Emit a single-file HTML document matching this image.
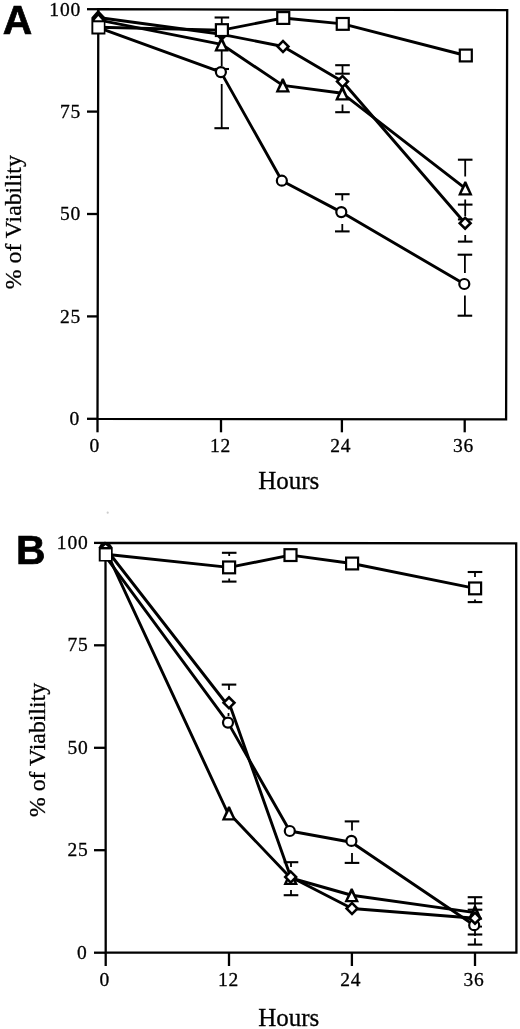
<!DOCTYPE html>
<html><head><meta charset="utf-8"><style>
html,body{margin:0;padding:0;background:#fff;width:520px;height:1029px;overflow:hidden}
svg{display:block;will-change:transform}
.s{stroke:#000;stroke-width:0.3px}
</style></head><body>
<svg width="520" height="1029" viewBox="0 0 520 1029">
<polygon points="98.3,9.2 507.2,10.2 506.1,419.4 97.5,418.8" fill="none" stroke="#000" stroke-width="2.3" stroke-linejoin="miter"/>
<line x1="87.0" y1="9.2" x2="98.3" y2="9.2" stroke="#000" stroke-width="2.3" stroke-linecap="butt"/>
<text class="s" x="81.0" y="15.5" font-family="Liberation Serif" font-size="19.5" font-weight="normal" text-anchor="end" letter-spacing="0.8">100</text>
<line x1="87.0" y1="111.6" x2="98.1" y2="111.6" stroke="#000" stroke-width="2.3" stroke-linecap="butt"/>
<text class="s" x="81.0" y="117.9" font-family="Liberation Serif" font-size="19.5" font-weight="normal" text-anchor="end" letter-spacing="0.8">75</text>
<line x1="87.0" y1="214.0" x2="97.9" y2="214.0" stroke="#000" stroke-width="2.3" stroke-linecap="butt"/>
<text class="s" x="81.0" y="220.3" font-family="Liberation Serif" font-size="19.5" font-weight="normal" text-anchor="end" letter-spacing="0.8">50</text>
<line x1="87.0" y1="316.4" x2="97.7" y2="316.4" stroke="#000" stroke-width="2.3" stroke-linecap="butt"/>
<text class="s" x="81.0" y="322.7" font-family="Liberation Serif" font-size="19.5" font-weight="normal" text-anchor="end" letter-spacing="0.8">25</text>
<line x1="87.0" y1="418.8" x2="97.5" y2="418.8" stroke="#000" stroke-width="2.3" stroke-linecap="butt"/>
<text class="s" x="80.0" y="425.1" font-family="Liberation Serif" font-size="19.5" font-weight="normal" text-anchor="end" letter-spacing="0.8">0</text>
<line x1="97.5" y1="418.8" x2="97.5" y2="432.3" stroke="#000" stroke-width="2.3" stroke-linecap="butt"/>
<text class="s" x="94.8" y="452.3" font-family="Liberation Serif" font-size="19.5" font-weight="normal" text-anchor="middle" letter-spacing="0.8">0</text>
<line x1="221.0" y1="418.98" x2="221.0" y2="432.3" stroke="#000" stroke-width="2.3" stroke-linecap="butt"/>
<text class="s" x="220.5" y="452.3" font-family="Liberation Serif" font-size="19.5" font-weight="normal" text-anchor="middle" letter-spacing="0.8">12</text>
<line x1="341.9" y1="419.16" x2="341.9" y2="432.3" stroke="#000" stroke-width="2.3" stroke-linecap="butt"/>
<text class="s" x="340.8" y="452.3" font-family="Liberation Serif" font-size="19.5" font-weight="normal" text-anchor="middle" letter-spacing="0.8">24</text>
<line x1="464.7" y1="419.34" x2="464.7" y2="432.3" stroke="#000" stroke-width="2.3" stroke-linecap="butt"/>
<text class="s" x="463.5" y="452.3" font-family="Liberation Serif" font-size="19.5" font-weight="normal" text-anchor="middle" letter-spacing="0.8">36</text>
<text class="s" x="258.2" y="488.8" font-family="Liberation Serif" font-size="25" font-weight="normal" text-anchor="start" >Hours</text>
<text class="s" x="0" y="0" font-family="Liberation Serif" font-size="24" transform="translate(20.6,289.2) rotate(-90) scale(0.99,1)">% of Viability</text>
<text x="2.8" y="33.9" font-family="Liberation Sans" font-size="40.8" font-weight="bold" text-anchor="start" stroke="#000" stroke-width="0.7">A</text>
<polyline points="98.4,27.3 221.9,30.1 283.25,18.0 342.75,23.9 465.8,55.5" fill="none" stroke="#000" stroke-width="2.9" stroke-linejoin="round"/>
<polyline points="98.2,17.5 221.7,34.3 283.0,46.5 342.5,81.5 465.1,223.2" fill="none" stroke="#000" stroke-width="2.9" stroke-linejoin="round"/>
<polyline points="98.0,19.8 221.5,44.3 282.8,85.4 342.3,93.3 465.3,188.3" fill="none" stroke="#000" stroke-width="2.9" stroke-linejoin="round"/>
<polyline points="98.4,27.7 220.9,72.1 281.85,180.7 341.3,212.1 464.3,284.0" fill="none" stroke="#000" stroke-width="2.9" stroke-linejoin="round"/>
<line x1="221.75" y1="17.5" x2="221.75" y2="24" stroke="#000" stroke-width="1.8" stroke-linecap="butt"/>
<line x1="214.6" y1="17.5" x2="229.2" y2="17.5" stroke="#000" stroke-width="2.1" stroke-linecap="butt"/>
<line x1="221.7" y1="50" x2="221.7" y2="66" stroke="#000" stroke-width="1.8" stroke-linecap="butt"/>
<line x1="221.7" y1="84" x2="221.7" y2="128.2" stroke="#000" stroke-width="1.8" stroke-linecap="butt"/>
<line x1="214.4" y1="128.2" x2="229.0" y2="128.2" stroke="#000" stroke-width="2.1" stroke-linecap="butt"/>
<line x1="214.4" y1="69.0" x2="229.0" y2="69.0" stroke="#000" stroke-width="2.1" stroke-linecap="butt"/>
<line x1="342.5" y1="65.2" x2="342.5" y2="74" stroke="#000" stroke-width="1.8" stroke-linecap="butt"/>
<line x1="335.2" y1="65.2" x2="349.8" y2="65.2" stroke="#000" stroke-width="2.1" stroke-linecap="butt"/>
<line x1="335.2" y1="73.7" x2="349.8" y2="73.7" stroke="#000" stroke-width="2.1" stroke-linecap="butt"/>
<line x1="342.5" y1="104.5" x2="342.5" y2="112.2" stroke="#000" stroke-width="1.8" stroke-linecap="butt"/>
<line x1="335.2" y1="112.2" x2="349.8" y2="112.2" stroke="#000" stroke-width="2.1" stroke-linecap="butt"/>
<line x1="342.3" y1="194.2" x2="342.3" y2="200.5" stroke="#000" stroke-width="1.8" stroke-linecap="butt"/>
<line x1="335.0" y1="194.2" x2="349.6" y2="194.2" stroke="#000" stroke-width="2.1" stroke-linecap="butt"/>
<line x1="342.3" y1="224" x2="342.3" y2="231.4" stroke="#000" stroke-width="1.8" stroke-linecap="butt"/>
<line x1="335.0" y1="231.4" x2="349.6" y2="231.4" stroke="#000" stroke-width="2.1" stroke-linecap="butt"/>
<line x1="465.2" y1="159.7" x2="465.2" y2="176.5" stroke="#000" stroke-width="1.8" stroke-linecap="butt"/>
<line x1="457.9" y1="159.7" x2="472.5" y2="159.7" stroke="#000" stroke-width="2.1" stroke-linecap="butt"/>
<line x1="465.2" y1="199.5" x2="465.2" y2="216" stroke="#000" stroke-width="1.8" stroke-linecap="butt"/>
<line x1="457.9" y1="204.6" x2="472.5" y2="204.6" stroke="#000" stroke-width="2.1" stroke-linecap="butt"/>
<line x1="457.9" y1="219.4" x2="472.5" y2="219.4" stroke="#000" stroke-width="2.1" stroke-linecap="butt"/>
<line x1="465.2" y1="235" x2="465.2" y2="241.6" stroke="#000" stroke-width="1.8" stroke-linecap="butt"/>
<line x1="457.9" y1="241.6" x2="472.5" y2="241.6" stroke="#000" stroke-width="2.1" stroke-linecap="butt"/>
<line x1="464.9" y1="254.7" x2="464.9" y2="273" stroke="#000" stroke-width="1.8" stroke-linecap="butt"/>
<line x1="457.6" y1="254.7" x2="472.2" y2="254.7" stroke="#000" stroke-width="2.1" stroke-linecap="butt"/>
<line x1="464.9" y1="295.5" x2="464.9" y2="315.7" stroke="#000" stroke-width="1.8" stroke-linecap="butt"/>
<line x1="457.6" y1="315.7" x2="472.2" y2="315.7" stroke="#000" stroke-width="2.1" stroke-linecap="butt"/>
<polygon points="221.7,27.3 228.7,34.3 221.7,41.3 214.7,34.3" fill="#000"/>
<polygon points="220.5,37.5 222.5,37.5 228.8,51.4 214.2,51.4" fill="#000"/>
<polygon points="221.50,42.12 217.89,49.15 225.11,49.15" fill="#fff"/>
<polygon points="281.8,78.6 283.8,78.6 290.1,92.5 275.5,92.5" fill="#000"/>
<polygon points="282.80,83.22 279.19,90.25 286.41,90.25" fill="#fff"/>
<polygon points="341.3,86.5 343.3,86.5 349.6,100.4 335.0,100.4" fill="#000"/>
<polygon points="342.30,91.12 338.69,98.15 345.91,98.15" fill="#fff"/>
<polygon points="464.3,181.5 466.3,181.5 472.6,195.4 458.0,195.4" fill="#000"/>
<polygon points="465.30,186.12 461.69,193.15 468.91,193.15" fill="#fff"/>
<circle cx="220.9" cy="72.1" r="5.0" fill="#fff" stroke="#000" stroke-width="2.2"/>
<circle cx="281.85" cy="180.7" r="5.0" fill="#fff" stroke="#000" stroke-width="2.2"/>
<circle cx="341.3" cy="212.1" r="5.0" fill="#fff" stroke="#000" stroke-width="2.2"/>
<circle cx="464.3" cy="284.0" r="5.0" fill="#fff" stroke="#000" stroke-width="2.2"/>
<polygon points="283.0,39.25 290.25,46.5 283.0,53.75 275.75,46.5" fill="#000"/>
<polygon points="283.0,42.86 286.64,46.5 283.0,50.14 279.36,46.5" fill="#fff"/>
<polygon points="342.5,74.25 349.75,81.5 342.5,88.75 335.25,81.5" fill="#000"/>
<polygon points="342.5,77.86 346.14,81.5 342.5,85.14 338.86,81.5" fill="#fff"/>
<polygon points="465.1,215.95 472.35,223.2 465.1,230.45 457.85,223.2" fill="#000"/>
<polygon points="465.1,219.56 468.74,223.2 465.1,226.84 461.46,223.2" fill="#fff"/>
<rect x="214.8" y="23.1" width="14.2" height="14.0" fill="#000"/>
<rect x="217.0" y="25.3" width="9.8" height="9.6" fill="#fff"/>
<rect x="276.15" y="11.0" width="14.2" height="14.0" fill="#000"/>
<rect x="278.35" y="13.2" width="9.8" height="9.6" fill="#fff"/>
<rect x="335.65" y="16.9" width="14.2" height="14.0" fill="#000"/>
<rect x="337.85" y="19.1" width="9.8" height="9.6" fill="#fff"/>
<rect x="458.7" y="48.5" width="14.2" height="14.0" fill="#000"/>
<rect x="460.9" y="50.7" width="9.8" height="9.6" fill="#fff"/>
<polygon points="97.1,9 99.2,9 99.2,11 105.4,17.6 105.4,34.4 91.4,34.4 91.4,17.4 97.1,11" fill="#000"/>
<polygon points="94.6,20.2 98.3,15.9 102.1,20.2" fill="#fff"/>
<rect x="93.3" y="22.3" width="10.5" height="10.2" fill="#fff"/>
<polygon points="105.5,542.8 516.2,543.4 516.4,952.6 105.7,952.7" fill="none" stroke="#000" stroke-width="2.3" stroke-linejoin="miter"/>
<line x1="94.0" y1="542.9" x2="105.6" y2="542.9" stroke="#000" stroke-width="2.3" stroke-linecap="butt"/>
<text class="s" x="88.5" y="548.9" font-family="Liberation Serif" font-size="19.5" font-weight="normal" text-anchor="end" letter-spacing="0.8">100</text>
<line x1="94.0" y1="645.3" x2="105.6" y2="645.3" stroke="#000" stroke-width="2.3" stroke-linecap="butt"/>
<text class="s" x="88.5" y="651.3" font-family="Liberation Serif" font-size="19.5" font-weight="normal" text-anchor="end" letter-spacing="0.8">75</text>
<line x1="94.0" y1="747.8" x2="105.6" y2="747.8" stroke="#000" stroke-width="2.3" stroke-linecap="butt"/>
<text class="s" x="88.5" y="753.8" font-family="Liberation Serif" font-size="19.5" font-weight="normal" text-anchor="end" letter-spacing="0.8">50</text>
<line x1="94.0" y1="850.2" x2="105.6" y2="850.2" stroke="#000" stroke-width="2.3" stroke-linecap="butt"/>
<text class="s" x="88.5" y="856.2" font-family="Liberation Serif" font-size="19.5" font-weight="normal" text-anchor="end" letter-spacing="0.8">25</text>
<line x1="94.0" y1="952.7" x2="105.6" y2="952.7" stroke="#000" stroke-width="2.3" stroke-linecap="butt"/>
<text class="s" x="87.5" y="958.7" font-family="Liberation Serif" font-size="19.5" font-weight="normal" text-anchor="end" letter-spacing="0.8">0</text>
<line x1="105.7" y1="952.7" x2="105.7" y2="966.0" stroke="#000" stroke-width="2.3" stroke-linecap="butt"/>
<text class="s" x="104.75" y="986.0" font-family="Liberation Serif" font-size="19.5" font-weight="normal" text-anchor="middle" letter-spacing="0.8">0</text>
<line x1="229.0" y1="952.7" x2="229.0" y2="966.0" stroke="#000" stroke-width="2.3" stroke-linecap="butt"/>
<text class="s" x="228.5" y="986.0" font-family="Liberation Serif" font-size="19.5" font-weight="normal" text-anchor="middle" letter-spacing="0.8">12</text>
<line x1="351.9" y1="952.7" x2="351.9" y2="966.0" stroke="#000" stroke-width="2.3" stroke-linecap="butt"/>
<text class="s" x="350.75" y="986.0" font-family="Liberation Serif" font-size="19.5" font-weight="normal" text-anchor="middle" letter-spacing="0.8">24</text>
<line x1="475.0" y1="952.7" x2="475.0" y2="966.0" stroke="#000" stroke-width="2.3" stroke-linecap="butt"/>
<text class="s" x="474.0" y="986.0" font-family="Liberation Serif" font-size="19.5" font-weight="normal" text-anchor="middle" letter-spacing="0.8">36</text>
<text class="s" x="258.2" y="1026.0" font-family="Liberation Serif" font-size="25" font-weight="normal" text-anchor="start" >Hours</text>
<text class="s" x="0" y="0" font-family="Liberation Serif" font-size="24" transform="translate(44.8,817) rotate(-90) scale(0.99,1)">% of Viability</text>
<text x="16" y="563.6" font-family="Liberation Sans" font-size="40.8" font-weight="bold" text-anchor="start" stroke="#000" stroke-width="0.7">B</text>
<polyline points="105.7,554.3 229.1,567.4 290.5,555.1 352.1,563.5 475.1,588.4" fill="none" stroke="#000" stroke-width="2.9" stroke-linejoin="round"/>
<polyline points="105.7,548.5 229.0,707.0 229.0,702.8 290.7,877.0 352.0,908.5 475.0,918.2" fill="none" stroke="#000" stroke-width="2.9" stroke-linejoin="round"/>
<polyline points="105.7,550.2 228.0,813.5 229.0,813.3 290.7,878.0 351.7,895.25 475.0,912.6" fill="none" stroke="#000" stroke-width="2.9" stroke-linejoin="round"/>
<polyline points="105.7,556.6 228.0,722.6 289.8,831.0 351.4,842.2 474.2,925.2" fill="none" stroke="#000" stroke-width="2.9" stroke-linejoin="round"/>
<line x1="229.2" y1="552.8" x2="229.2" y2="556" stroke="#000" stroke-width="1.8" stroke-linecap="butt"/>
<line x1="221.9" y1="552.8" x2="236.5" y2="552.8" stroke="#000" stroke-width="2.1" stroke-linecap="butt"/>
<line x1="229.2" y1="578.5" x2="229.2" y2="581.6" stroke="#000" stroke-width="1.8" stroke-linecap="butt"/>
<line x1="221.9" y1="581.6" x2="236.5" y2="581.6" stroke="#000" stroke-width="2.1" stroke-linecap="butt"/>
<line x1="229.0" y1="684.6" x2="229.0" y2="690" stroke="#000" stroke-width="1.8" stroke-linecap="butt"/>
<line x1="221.7" y1="684.6" x2="236.3" y2="684.6" stroke="#000" stroke-width="2.1" stroke-linecap="butt"/>
<line x1="228.5" y1="713" x2="228.5" y2="716" stroke="#000" stroke-width="1.8" stroke-linecap="butt"/>
<line x1="291.0" y1="862.2" x2="291.0" y2="867" stroke="#000" stroke-width="1.8" stroke-linecap="butt"/>
<line x1="283.7" y1="862.2" x2="298.3" y2="862.2" stroke="#000" stroke-width="2.1" stroke-linecap="butt"/>
<line x1="291.0" y1="890" x2="291.0" y2="895.2" stroke="#000" stroke-width="1.8" stroke-linecap="butt"/>
<line x1="283.7" y1="895.2" x2="298.3" y2="895.2" stroke="#000" stroke-width="2.1" stroke-linecap="butt"/>
<line x1="352.0" y1="821.4" x2="352.0" y2="830.5" stroke="#000" stroke-width="1.8" stroke-linecap="butt"/>
<line x1="344.7" y1="821.4" x2="359.3" y2="821.4" stroke="#000" stroke-width="2.1" stroke-linecap="butt"/>
<line x1="352.0" y1="853" x2="352.0" y2="862.9" stroke="#000" stroke-width="1.8" stroke-linecap="butt"/>
<line x1="344.7" y1="862.9" x2="359.3" y2="862.9" stroke="#000" stroke-width="2.1" stroke-linecap="butt"/>
<line x1="475.0" y1="572" x2="475.0" y2="577" stroke="#000" stroke-width="1.8" stroke-linecap="butt"/>
<line x1="467.7" y1="572" x2="482.3" y2="572" stroke="#000" stroke-width="2.1" stroke-linecap="butt"/>
<line x1="475.0" y1="599.5" x2="475.0" y2="602.1" stroke="#000" stroke-width="1.8" stroke-linecap="butt"/>
<line x1="467.7" y1="602.1" x2="482.3" y2="602.1" stroke="#000" stroke-width="2.1" stroke-linecap="butt"/>
<polygon points="228.0,806.5 230.0,806.5 236.3,820.4 221.7,820.4" fill="#000"/>
<polygon points="229.00,811.12 225.39,818.15 232.61,818.15" fill="#fff"/>
<polygon points="289.7,871.2 291.7,871.2 298.0,885.1 283.4,885.1" fill="#000"/>
<polygon points="290.70,875.82 287.09,882.85 294.31,882.85" fill="#fff"/>
<polygon points="350.7,888.45 352.7,888.45 359.0,902.35 344.4,902.35" fill="#000"/>
<polygon points="351.70,893.07 348.09,900.10 355.31,900.10" fill="#fff"/>
<polygon points="474.0,905.8 476.0,905.8 482.3,919.7 467.7,919.7" fill="#000"/>
<polygon points="475.00,910.42 471.39,917.45 478.61,917.45" fill="#fff"/>
<circle cx="228.0" cy="722.6" r="5.0" fill="#fff" stroke="#000" stroke-width="2.2"/>
<circle cx="289.8" cy="831.0" r="5.0" fill="#fff" stroke="#000" stroke-width="2.2"/>
<circle cx="351.4" cy="840.9" r="5.0" fill="#fff" stroke="#000" stroke-width="2.2"/>
<circle cx="474.2" cy="925.2" r="5.0" fill="#fff" stroke="#000" stroke-width="2.2"/>
<polygon points="229.0,695.55 236.25,702.8 229.0,710.05 221.75,702.8" fill="#000"/>
<polygon points="229.0,699.16 232.64,702.8 229.0,706.44 225.36,702.8" fill="#fff"/>
<polygon points="290.7,869.75 297.95,877.0 290.7,884.25 283.45,877.0" fill="#000"/>
<polygon points="290.7,873.36 294.34,877.0 290.7,880.64 287.06,877.0" fill="#fff"/>
<polygon points="352.0,901.25 359.25,908.5 352.0,915.75 344.75,908.5" fill="#000"/>
<polygon points="352.0,904.86 355.64,908.5 352.0,912.14 348.36,908.5" fill="#fff"/>
<polygon points="475.0,910.95 482.25,918.2 475.0,925.45 467.75,918.2" fill="#000"/>
<polygon points="475.0,914.56 478.64,918.2 475.0,921.84 471.36,918.2" fill="#fff"/>
<rect x="222.0" y="560.4" width="14.2" height="14.0" fill="#000"/>
<rect x="224.2" y="562.6" width="9.8" height="9.6" fill="#fff"/>
<rect x="283.4" y="548.1" width="14.2" height="14.0" fill="#000"/>
<rect x="285.6" y="550.3" width="9.8" height="9.6" fill="#fff"/>
<rect x="345.0" y="556.5" width="14.2" height="14.0" fill="#000"/>
<rect x="347.2" y="558.7" width="9.8" height="9.6" fill="#fff"/>
<rect x="468.0" y="581.4" width="14.2" height="14.0" fill="#000"/>
<rect x="470.2" y="583.6" width="9.8" height="9.6" fill="#fff"/>
<line x1="475.0" y1="897.2" x2="475.0" y2="906" stroke="#000" stroke-width="1.8" stroke-linecap="butt"/>
<line x1="467.7" y1="897.2" x2="482.3" y2="897.2" stroke="#000" stroke-width="2.1" stroke-linecap="butt"/>
<line x1="467.7" y1="903.4" x2="482.3" y2="903.4" stroke="#000" stroke-width="2.1" stroke-linecap="butt"/>
<line x1="467.7" y1="909.7" x2="482.3" y2="909.7" stroke="#000" stroke-width="2.1" stroke-linecap="butt"/>
<line x1="467.7" y1="934.5" x2="482.3" y2="934.5" stroke="#000" stroke-width="2.1" stroke-linecap="butt"/>
<line x1="467.7" y1="944.6" x2="482.3" y2="944.6" stroke="#000" stroke-width="2.1" stroke-linecap="butt"/>
<line x1="475.0" y1="930.5" x2="475.0" y2="936" stroke="#000" stroke-width="1.8" stroke-linecap="butt"/>
<line x1="475.0" y1="938.3" x2="475.0" y2="944.6" stroke="#000" stroke-width="1.8" stroke-linecap="butt"/>
<line x1="478" y1="926.6" x2="482" y2="926.6" stroke="#000" stroke-width="1.9"/>
<polygon points="101.5,542.5 109.1,542.5 112.7,547.6 112.7,561.5 98.75,561.5 98.75,547.3" fill="#000"/>
<polygon points="103.4,547.1 105.6,545.0 107.9,547.1" fill="#fff"/>
<rect x="100.7" y="549.4" width="10.3" height="10.6" fill="#fff"/>
<circle cx="107.7" cy="512.7" r="1.1" fill="#ccc"/>
</svg>
</body></html>
